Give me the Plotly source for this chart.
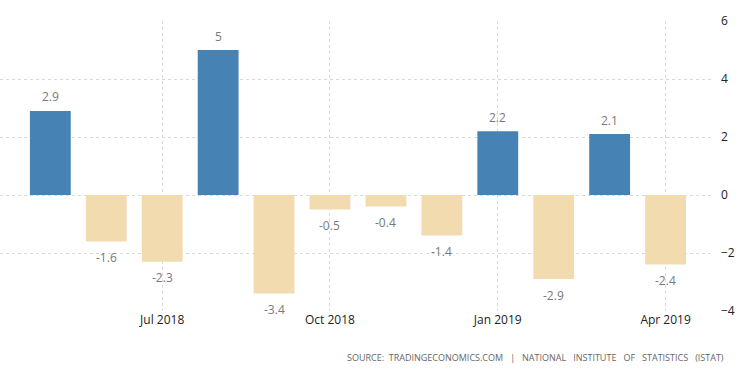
import plotly.graph_objects as go

months = ["May 2018", "Jun 2018", "Jul 2018", "Aug 2018", "Sep 2018", "Oct 2018",
          "Nov 2018", "Dec 2018", "Jan 2019", "Feb 2019", "Mar 2019", "Apr 2019"]
values = [2.9, -1.6, -2.3, 5.0, -3.4, -0.5, -0.4, -1.4, 2.2, -2.9, 2.1, -2.4]
labels = ["2.9", "-1.6", "-2.3", "5", "-3.4", "-0.5", "-0.4", "-1.4", "2.2", "-2.9", "2.1", "-2.4"]
tick_idx = [2, 5, 8, 11]
tick_text = ["Jul 2018", "Oct 2018", "Jan 2019", "Apr 2019"]
y_ticks = [-4, -2, 0, 2, 4, 6]

x = list(range(len(values)))
colors = ["#4682b4" if v >= 0 else "#f3dbb0" for v in values]

fig = go.Figure()
fig.add_trace(go.Bar(x=x, y=values, marker=dict(color=colors, line=dict(width=0)),
                     width=0.73, hoverinfo="skip"))

annotations = []
for xi, v, t in zip(x, values, labels):
    annotations.append(dict(x=xi, y=v, text=t, showarrow=False, xref="x", yref="y",
                            yanchor="middle", yshift=14 if v >= 0 else -16,
                            font=dict(family="Open Sans", size=12, color="#7a7a7a")))
annotations.append(dict(x=1, y=0, xref="paper", yref="paper", xanchor="right", yanchor="middle",
                        xshift=14, yshift=-46,
                        text="SOURCE:  TRADINGECONOMICS.COM   |   NATIONAL   INSTITUTE   OF   STATISTICS   (ISTAT)",
                        showarrow=False, font=dict(family="Open Sans", size=9, color="#666666")))

fig.update_layout(
    width=750, height=373,
    margin=dict(l=0, r=38, t=21, b=62),
    plot_bgcolor="white", paper_bgcolor="white",
    showlegend=False,
    annotations=annotations,
    xaxis=dict(range=[-0.9, 11.83], tickvals=tick_idx, ticktext=tick_text,
               showgrid=True, gridcolor="#d9d9d9", griddash="dot", gridwidth=1,
               zeroline=False, showline=False, ticks="",
               tickfont=dict(family="Open Sans", size=12, color="#222222")),
    yaxis=dict(range=[-4, 6], tickvals=y_ticks, side="right",
               showgrid=True, gridcolor="#d9d9d9", griddash="dot", gridwidth=1,
               zeroline=False, showline=False, ticks="", ticklabelstandoff=8,
               tickfont=dict(family="Open Sans", size=12, color="#222222")),
    bargap=0.27,
)

fig.write_html("out.html", config={"displayModeBar": False},
               post_script="document.body.style.margin='0';")
